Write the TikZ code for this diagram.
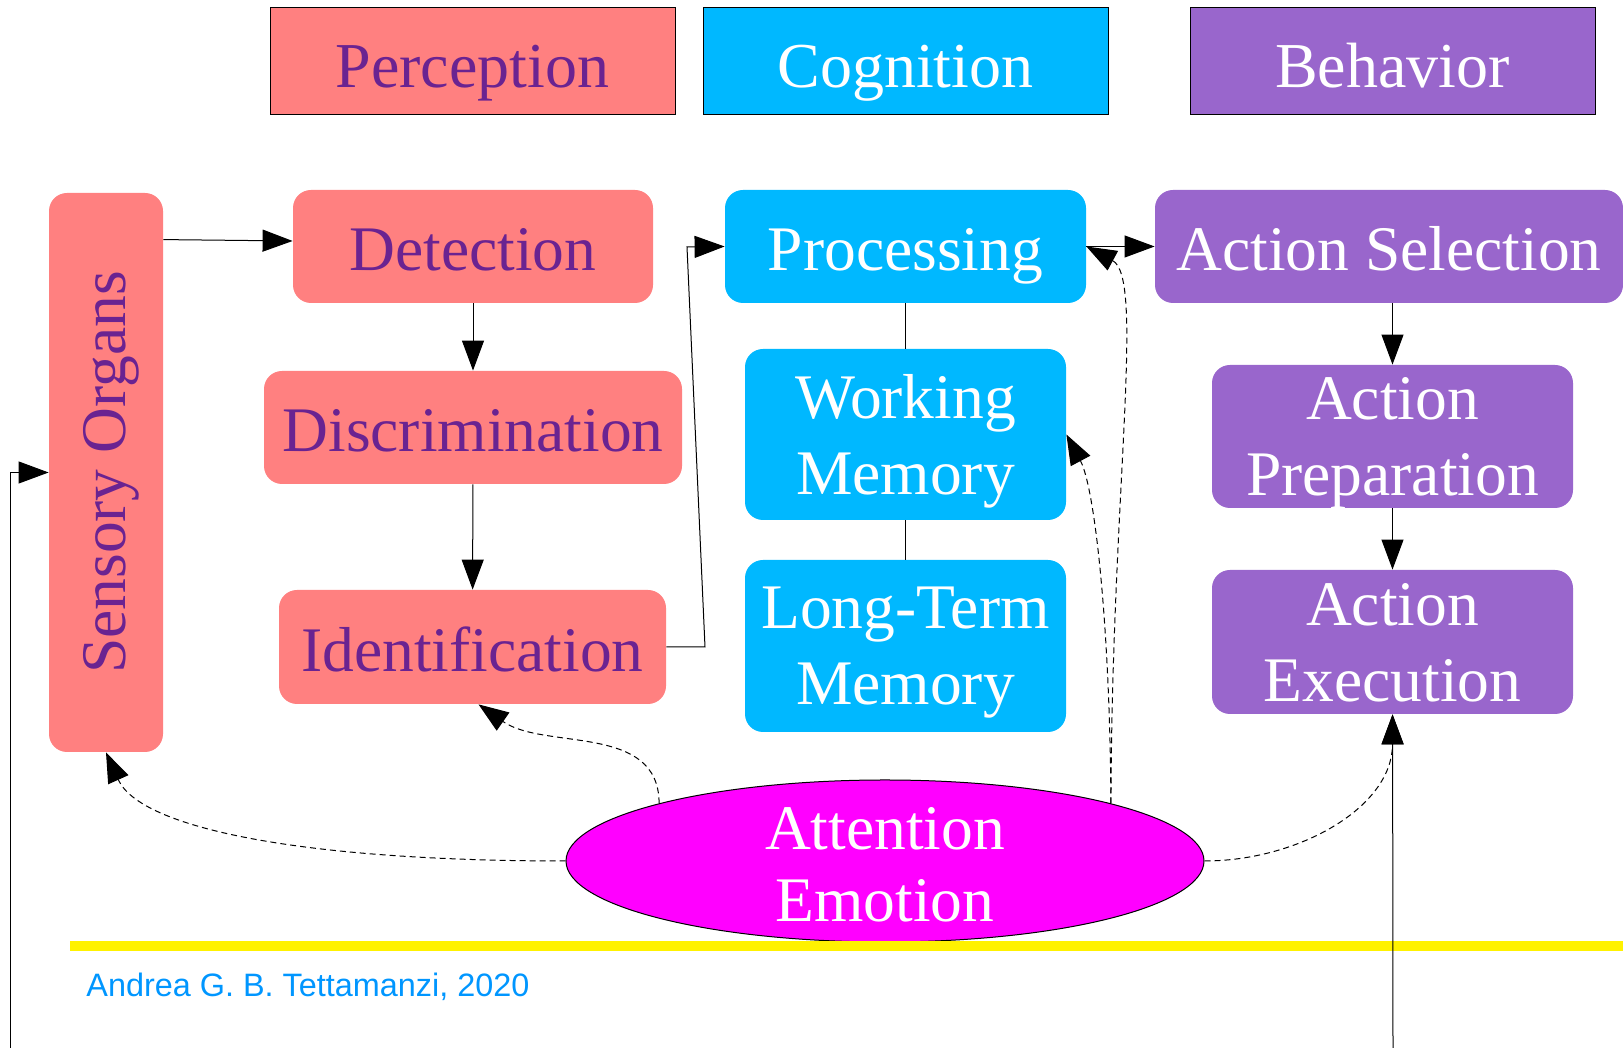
\documentclass[tikz,border=0pt]{standalone}
\usepackage{fontspec}
\setmainfont{Liberation Serif}
\newfontfamily\signfont{Liberation Sans}
\usepackage{tikz}
\usetikzlibrary{positioning,calc,arrows.meta,shapes.geometric}
\definecolor{percfill}{RGB}{255,128,128}
\definecolor{perctext}{RGB}{106,35,145}
\definecolor{cognfill}{RGB}{0,184,255}
\definecolor{behavfill}{RGB}{153,102,204}
\definecolor{attfill}{RGB}{255,0,255}
\definecolor{signblue}{RGB}{0,150,255}
\tikzset{>={Triangle[length=15pt,width=11pt]},
  box/.style={rounded corners=9pt,inner sep=0pt,align=center,text depth=0pt,font=\fontsize{31.75}{38}\selectfont},
  oneline/.style={text height=24.5pt},
  perc/.style={box,fill=percfill,text=perctext},
  cogn/.style={box,fill=cognfill,text=white},
  behav/.style={box,fill=behavfill,text=white},
  head/.style={draw=black,line width=0.5pt,inner sep=0pt,minimum width=202.5pt,minimum height=53.5pt,text height=26.5pt,text depth=0pt,font=\fontsize{32}{38}\selectfont},
  link/.style={line width=0.5pt},
  flow/.style={link,->},
  hint/.style={flow,dash pattern=on 3pt off 2pt}}

\begin{document}
\begin{tikzpicture}[x=0.5pt,y=0.5pt]
\useasboundingbox (0,0) rectangle (1623,1048);
\node[head,fill=percfill,text=perctext] (hp) at (472.5,986.5) {Perception};
\node[head,fill=cognfill,text=white] (hc) at (905.5,986.5) {Cognition};
\node[head,fill=behavfill,text=white] (hb) at (1392.5,986.5) {Behavior};

\node[perc,text depth=,minimum width=57pt,minimum height=279.5pt] (sens) at (106,575.5) {\rotatebox{90}{\raisebox{-2.6pt}[\height][\depth]{Sensory Organs}}};
\node[perc,oneline,minimum width=180pt,minimum height=56.5pt] (det) at (473,801.5) {Detection};
\node[perc,oneline,minimum width=209pt,minimum height=56.5pt] (disc) at (473,620.5) {Discrimination};
\node[perc,oneline,minimum width=193.5pt,minimum height=57pt] (ident) at (472.5,401) {Identification};

\node[cogn,oneline,minimum width=180.5pt,minimum height=56.5pt] (proc) at (905.5,801.5) {Processing};
\node[cogn,minimum width=160.5pt,minimum height=85.5pt] (wm) at (905.5,613.5) {Working\\Memory};
\node[cogn,minimum width=160.5pt,minimum height=86pt] (ltm) at (905.5,402) {Long-Term\\Memory};

\node[behav,oneline,minimum width=234pt,minimum height=56.5pt] (asel) at (1389,801.5) {Action Selection};
\node[behav,minimum width=180.5pt,minimum height=71.5pt] (aprep) at (1392.5,611.5) {Action\\Preparation};
\node[behav,minimum width=180.5pt,minimum height=72pt] (aexec) at (1392.5,406) {Action\\Execution};

\node[ellipse,draw=black,line width=0.5pt,fill=attfill,inner sep=0pt,minimum width=319pt,minimum height=81pt] (att) at (885,187) {};
\node[align=center,text=white,font=\fontsize{31.75}{36}\selectfont] (attx) at ([yshift=-1.75pt]att) {Attention\\Emotion};

\draw[yellow,line width=5pt] (70,102) -- (1623,102);
\node[anchor=base west,inner sep=0pt,text=signblue,font=\signfont\fontsize{16.2}{19}\selectfont] (sign) at (86,51) {Andrea G. B. Tettamanzi, 2020};

\coordinate (in1) at (10,0);
\coordinate (out1) at (1393,0);
\coordinate (bend1) at (705,401);
\coordinate (bend2) at (687,801);
\draw[flow] (in1) |- (sens.west);
\draw[flow] ([yshift=-23.5pt]sens.north east) -- ([yshift=2.75pt]det.west);
\draw[flow] (det) -- (disc);
\draw[flow] (disc) -- (ident);
\draw[flow] (ident.east) -- (bend1) -- (bend2) -- (proc.west);
\draw[link] (proc) -- (wm);
\draw[link] (wm) -- (ltm);
\draw[flow] (proc) -- (asel);
\draw[flow] (asel.south -| aprep.north) -- (aprep);
\draw[flow] (aprep) -- (aexec);
\draw[flow] (out1) -- (aexec);

\draw[hint] (att.west) .. controls (300,187) and (140,220) .. (sens.south);
\draw[hint] (att.north west) to[out=90,in=-35] ([xshift=3pt]ident.south);
\draw[hint] (att.north east) .. controls (1110,420) and (1095,560) .. (wm.east);
\draw[hint] (att.north east) .. controls (1112,560) and (1145,770) .. (proc.east);
\draw[hint] (att.east) to[out=0,in=-90] (aexec.south);
\end{tikzpicture}
\end{document}
